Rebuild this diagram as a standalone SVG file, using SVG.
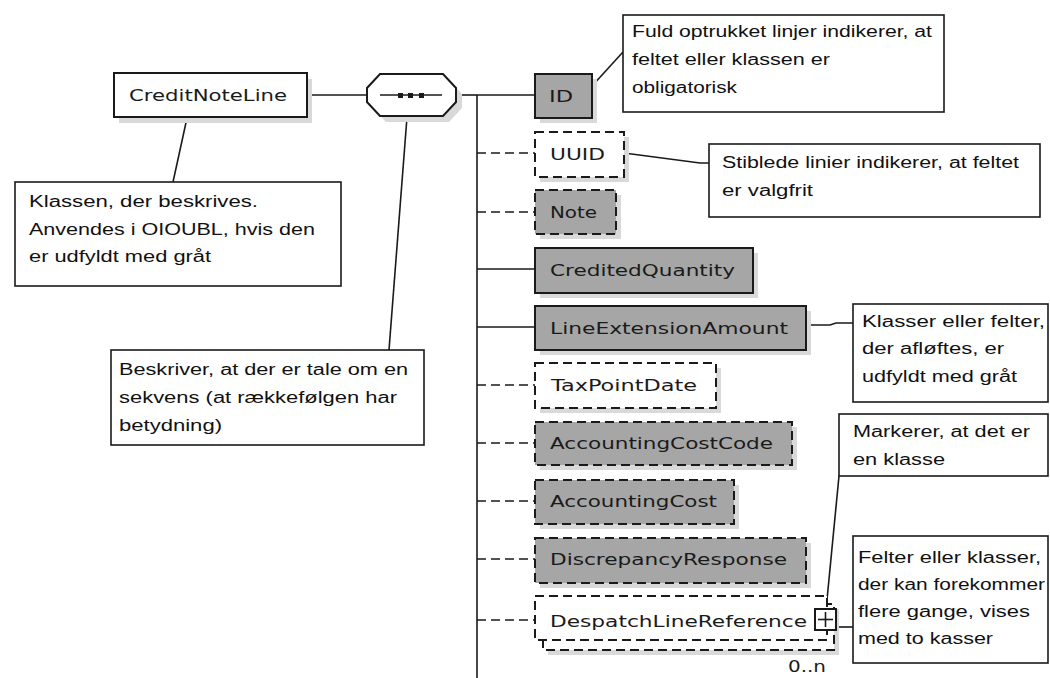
<svg xmlns="http://www.w3.org/2000/svg" width="1050" height="678" viewBox="0 0 1050 678">
<style>
.bg{fill:#ffffff}
.sh{fill:#d9d9d9;stroke:none}
.box{stroke:#1a1a1a;stroke-width:2}
.req{fill:#a6a6a6}
.opt{fill:#ffffff}
.dash{stroke-dasharray:9 5}
.gopt{fill:#a6a6a6}
.lbl{font-family:"DejaVu Sans",Verdana,sans-serif;font-size:16px;fill:#1a1a1a}
.note{fill:#ffffff;stroke:#1a1a1a;stroke-width:1.6}
.nt{font-family:"Liberation Sans",Arial,sans-serif;font-size:16px;fill:#111111}
.ln{stroke:#1a1a1a;stroke-width:1.6;fill:none}
.dl{stroke:#1a1a1a;stroke-width:1.6;fill:none;stroke-dasharray:9 5}
</style>
<rect class="bg" x="0" y="0" width="1050" height="678"/>

<g id="connectors">
  <line class="ln" x1="307" y1="95" x2="367" y2="95"/>
  <line class="ln" x1="456" y1="95" x2="477" y2="95"/>
  <line class="ln" x1="477" y1="95" x2="477" y2="678"/>
  <line class="ln" x1="477" y1="95" x2="535" y2="95"/>
  <line class="dl" x1="477" y1="153" x2="535" y2="153"/>
  <line class="dl" x1="477" y1="212" x2="535" y2="212"/>
  <line class="ln" x1="477" y1="269" x2="535" y2="269"/>
  <line class="ln" x1="477" y1="327" x2="535" y2="327"/>
  <line class="dl" x1="477" y1="385" x2="535" y2="385"/>
  <line class="dl" x1="477" y1="443" x2="535" y2="443"/>
  <line class="dl" x1="477" y1="501" x2="535" y2="501"/>
  <line class="dl" x1="477" y1="559" x2="535" y2="559"/>
  <line class="dl" x1="477" y1="620" x2="535" y2="620"/>
  <line class="ln" x1="187" y1="118" x2="173" y2="182"/>
  <line class="ln" x1="407" y1="117" x2="389" y2="350"/>
  <line class="ln" x1="592" y1="86" x2="623" y2="52"/>
  <polyline class="ln" points="624,153 700,163 709,163"/>
  <polyline class="ln" points="806,325 830,325 836,323 853,323"/>
  <line class="ln" x1="839" y1="476" x2="826" y2="610"/>
  <line class="ln" x1="836" y1="627" x2="853" y2="627"/>
</g>

<g id="creditnoteline">
  <rect class="sh" x="119" y="79" width="193" height="44"/>
  <rect class="box opt" x="114" y="73" width="193" height="44"/>
  <text class="lbl" x="129" y="101" textLength="158" lengthAdjust="spacingAndGlyphs">CreditNoteLine</text>
</g>

<g id="sequence">
  <polygon class="sh" points="386,80 449,80 462,94 462,108 449,122 386,122 373,108 373,94"/>
  <polygon class="box opt" points="380,74 443,74 456,88 456,102 443,116 380,116 367,102 367,88"/>
  <line class="ln" x1="380" y1="95" x2="442" y2="95"/>
  <rect x="398" y="93" width="5" height="5" fill="#1a1a1a"/>
  <rect x="408" y="93" width="5" height="5" fill="#1a1a1a"/>
  <rect x="419" y="93" width="5" height="5" fill="#1a1a1a"/>
</g>

<g id="n-id">
  <rect class="sh" x="540" y="79" width="57" height="44"/>
  <rect class="box req" x="535" y="74" width="57" height="44"/>
  <text class="lbl" x="549" y="102" textLength="24" lengthAdjust="spacingAndGlyphs">ID</text>
</g>
<g id="n-uuid">
  <rect class="sh" x="540" y="137" width="89" height="45"/>
  <rect class="box opt dash" x="535" y="132" width="89" height="45"/>
  <text class="lbl" x="550" y="160" textLength="55" lengthAdjust="spacingAndGlyphs">UUID</text>
</g>
<g id="n-note">
  <rect class="sh" x="540" y="195" width="81" height="44"/>
  <rect class="box gopt dash" x="535" y="190" width="81" height="44"/>
  <text class="lbl" x="550" y="218" textLength="47" lengthAdjust="spacingAndGlyphs">Note</text>
</g>
<g id="n-creditedquantity">
  <rect class="sh" x="540" y="253" width="218" height="45"/>
  <rect class="box req" x="535" y="248" width="218" height="45"/>
  <text class="lbl" x="550" y="276" textLength="185" lengthAdjust="spacingAndGlyphs">CreditedQuantity</text>
</g>
<g id="n-lineextensionamount">
  <rect class="sh" x="540" y="311" width="271" height="44"/>
  <rect class="box req" x="535" y="306" width="271" height="44"/>
  <text class="lbl" x="550" y="334" textLength="238" lengthAdjust="spacingAndGlyphs">LineExtensionAmount</text>
</g>
<g id="n-taxpointdate">
  <rect class="sh" x="540" y="368" width="181" height="45"/>
  <rect class="box opt dash" x="535" y="363" width="181" height="45"/>
  <text class="lbl" x="551" y="391" textLength="146" lengthAdjust="spacingAndGlyphs">TaxPointDate</text>
</g>
<g id="n-accountingcostcode">
  <rect class="sh" x="540" y="427" width="257" height="43"/>
  <rect class="box gopt dash" x="535" y="422" width="257" height="43"/>
  <text class="lbl" x="550" y="449" textLength="223" lengthAdjust="spacingAndGlyphs">AccountingCostCode</text>
</g>
<g id="n-accountingcost">
  <rect class="sh" x="540" y="485" width="199" height="44"/>
  <rect class="box gopt dash" x="535" y="480" width="199" height="44"/>
  <text class="lbl" x="550" y="507" textLength="167" lengthAdjust="spacingAndGlyphs">AccountingCost</text>
</g>
<g id="n-discrepancyresponse">
  <rect class="sh" x="540" y="543" width="271" height="45"/>
  <rect class="box gopt dash" x="535" y="538" width="271" height="45"/>
  <text class="lbl" x="550" y="565" textLength="237" lengthAdjust="spacingAndGlyphs">DiscrepancyResponse</text>
</g>
<g id="n-despatchlinereference">
  <rect class="sh" x="548" y="609" width="291" height="46"/>
  <rect class="box opt dash" x="543" y="604" width="291" height="46"/>
  <rect class="box opt dash" x="535" y="596" width="292" height="44"/>
  <text class="lbl" x="550" y="627" textLength="257" lengthAdjust="spacingAndGlyphs">DespatchLineReference</text>
  <rect class="box opt" x="815" y="609" width="21" height="21" stroke-width="1.6"/>
  <line class="ln" x1="825.5" y1="612" x2="825.5" y2="627"/>
  <line class="ln" x1="818" y1="619.5" x2="833" y2="619.5"/>
  <text class="lbl" x="788" y="672" textLength="38" lengthAdjust="spacingAndGlyphs">0..n</text>
</g>

<g id="a-klassen">
  <rect class="note" x="15" y="182" width="326" height="104"/>
  <text class="nt" x="29" y="207" textLength="229" lengthAdjust="spacingAndGlyphs">Klassen, der beskrives.</text>
  <text class="nt" x="29" y="235" textLength="286" lengthAdjust="spacingAndGlyphs">Anvendes i OIOUBL, hvis den</text>
  <text class="nt" x="29" y="262" textLength="182" lengthAdjust="spacingAndGlyphs">er udfyldt med gråt</text>
</g>
<g id="a-beskriver">
  <rect class="note" x="111" y="350" width="313" height="95"/>
  <text class="nt" x="119" y="375" textLength="289" lengthAdjust="spacingAndGlyphs">Beskriver, at der er tale om en</text>
  <text class="nt" x="119" y="403" textLength="278" lengthAdjust="spacingAndGlyphs">sekvens (at rækkefølgen har</text>
  <text class="nt" x="119" y="431" textLength="103" lengthAdjust="spacingAndGlyphs">betydning)</text>
</g>
<g id="a-fuld">
  <rect class="note" x="623" y="15" width="321" height="97"/>
  <text class="nt" x="632" y="37" textLength="300" lengthAdjust="spacingAndGlyphs">Fuld optrukket linjer indikerer, at</text>
  <text class="nt" x="632" y="65" textLength="198" lengthAdjust="spacingAndGlyphs">feltet eller klassen er</text>
  <text class="nt" x="632" y="93" textLength="105" lengthAdjust="spacingAndGlyphs">obligatorisk</text>
</g>
<g id="a-stiblede">
  <rect class="note" x="709" y="144" width="331" height="73"/>
  <text class="nt" x="722" y="168" textLength="297" lengthAdjust="spacingAndGlyphs">Stiblede linier indikerer, at feltet</text>
  <text class="nt" x="722" y="196" textLength="91" lengthAdjust="spacingAndGlyphs">er valgfrit</text>
</g>
<g id="a-klasser">
  <rect class="note" x="853" y="304" width="195" height="98"/>
  <text class="nt" x="862" y="327" textLength="183" lengthAdjust="spacingAndGlyphs">Klasser eller felter,</text>
  <text class="nt" x="862" y="354" textLength="142" lengthAdjust="spacingAndGlyphs">der afløftes, er</text>
  <text class="nt" x="862" y="382" textLength="155" lengthAdjust="spacingAndGlyphs">udfyldt med gråt</text>
</g>
<g id="a-markerer">
  <rect class="note" x="839" y="414" width="209" height="62"/>
  <text class="nt" x="853" y="437" textLength="177" lengthAdjust="spacingAndGlyphs">Markerer, at det er</text>
  <text class="nt" x="853" y="465" textLength="92" lengthAdjust="spacingAndGlyphs">en klasse</text>
</g>
<g id="a-felter">
  <rect class="note" x="853" y="536" width="195" height="127"/>
  <text class="nt" x="858" y="563" textLength="183" lengthAdjust="spacingAndGlyphs">Felter eller klasser,</text>
  <text class="nt" x="858" y="590" textLength="187" lengthAdjust="spacingAndGlyphs">der kan forekommer</text>
  <text class="nt" x="858" y="617" textLength="172" lengthAdjust="spacingAndGlyphs">flere gange, vises</text>
  <text class="nt" x="858" y="644" textLength="135" lengthAdjust="spacingAndGlyphs">med to kasser</text>
</g>
</svg>
